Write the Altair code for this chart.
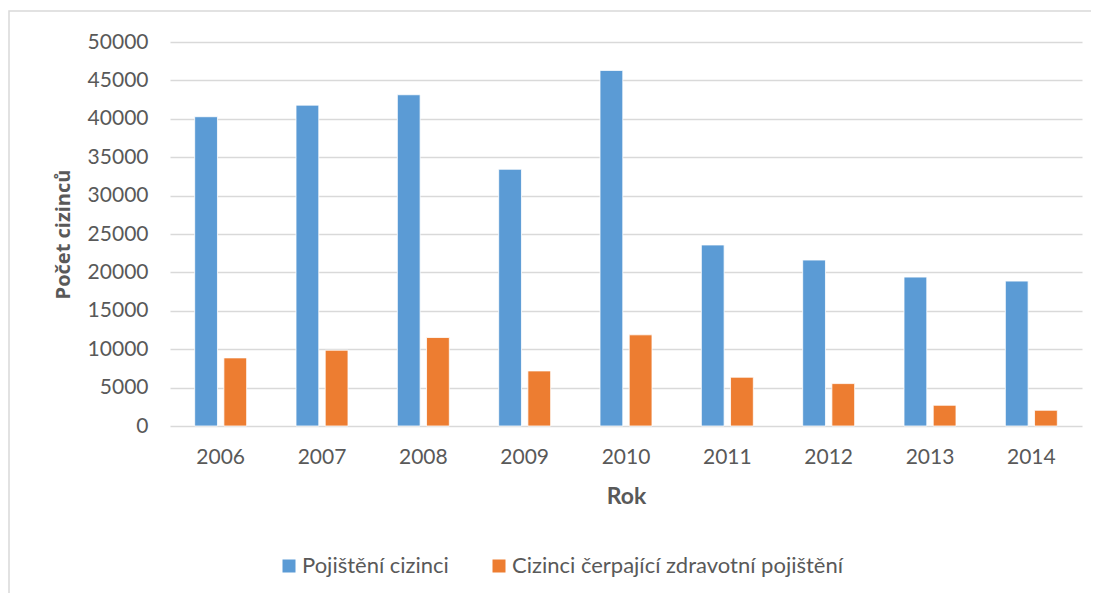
import altair as alt
import pandas as pd

years = ["2006", "2007", "2008", "2009", "2010", "2011", "2012", "2013", "2014"]
insured = [40270, 41780, 43130, 33430, 46300, 23570, 21610, 19390, 18870]
drawing = [8870, 9870, 11520, 7170, 11870, 6350, 5520, 2700, 2050]
series = ["Pojištění cizinci", "Cizinci čerpající zdravotní pojištění"]
colors = ["#5B9BD5", "#ED7D31"]

rows = []
for i, y in enumerate(years):
    rows.append({"Rok": y, "Řada": series[0], "Hodnota": insured[i]})
    rows.append({"Rok": y, "Řada": series[1], "Hodnota": drawing[i]})
df = pd.DataFrame(rows)

FONT = "Lato"
GRAY = "#595959"

bars = alt.Chart(df).mark_bar(stroke="white", strokeWidth=0.8).encode(
    x=alt.X("Rok:N", sort=years,
            scale=alt.Scale(paddingInner=0.487, paddingOuter=0.2435),
            axis=alt.Axis(title="Rok", labelAngle=0, labelFontSize=21, labelColor=GRAY,
                          labelFont=FONT, labelPadding=20, ticks=False, domain=False,
                          titleFont=FONT, titleFontSize=23, titleFontWeight="bold",
                          titleColor=GRAY, titlePadding=18)),
    xOffset=alt.XOffset("Řada:N", sort=series,
                        scale=alt.Scale(paddingInner=0.22, paddingOuter=0)),
    y=alt.Y("Hodnota:Q", scale=alt.Scale(domain=[0, 50000]),
            axis=alt.Axis(title="Počet cizinců", values=list(range(0, 50001, 5000)),
                          format="d", labelFontSize=21, labelColor=GRAY, labelFont=FONT,
                          labelPadding=22, ticks=False, domain=False,
                          gridColor="#D9D9D9", gridWidth=1.5,
                          titleFont="Open Sans", titleFontSize=20, titleFontWeight="bold",
                          titleColor=GRAY, titlePadding=14)),
    color=alt.Color("Řada:N", sort=series,
                    scale=alt.Scale(domain=series, range=colors),
                    legend=alt.Legend(title=None, orient="none", legendX=108, legendY=513,
                                      direction="horizontal", labelFont=FONT,
                                      labelFontSize=22, labelColor=GRAY, labelLimit=600,
                                      symbolType="square",
                                      symbolSize=169, symbolStrokeWidth=0,
                                      labelOffset=2, columnPadding=39)),
)

border = alt.Chart(pd.DataFrame({"a": [0]})).mark_rect(
    fill=None, stroke="#D9D9D9", strokeWidth=1.5, clip=False
).encode(x=alt.value(-161), x2=alt.value(940), y=alt.value(-31), y2=alt.value(600))

chart = alt.layer(border, bars).properties(
    width=912, height=384,
    autosize=alt.AutoSizeParams(type="none"),
    padding={"left": 162, "top": 34, "right": 9, "bottom": 167},
).configure_view(stroke=None)

chart.save("out.html", embed_options={"renderer": "svg", "actions": False})
